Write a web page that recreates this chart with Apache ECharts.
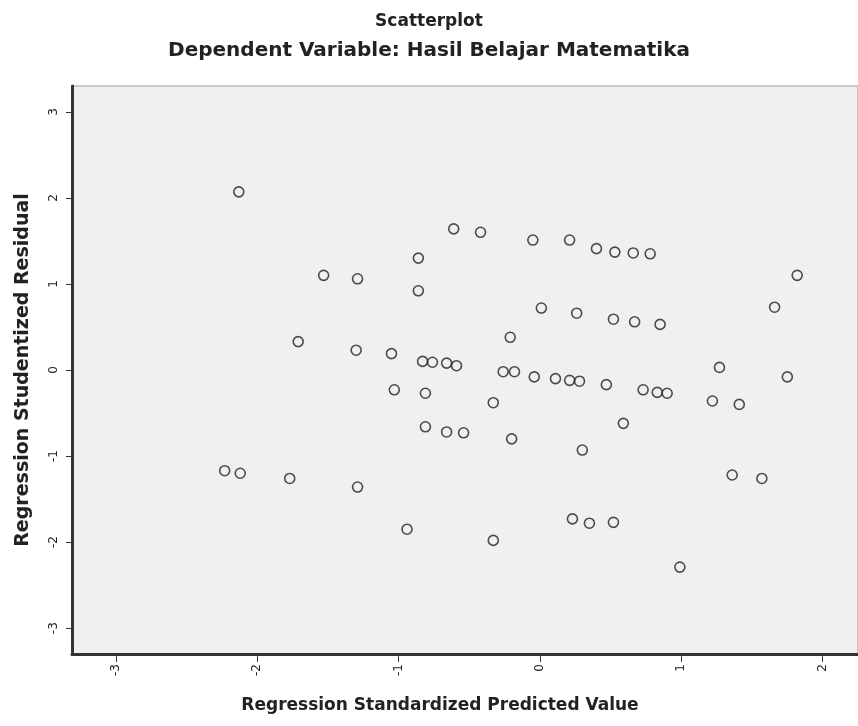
<!DOCTYPE html>
<html>
<head>
<meta charset="utf-8">
<script src="https://cdn.jsdelivr.net/npm/echarts@6/dist/echarts.min.js"></script>
<style>
html,body{margin:0;padding:0;background:#fff;}
#chart{width:858px;height:726px;}
</style>
</head>
<body>
<div id="chart"></div>
<script>
const titleText = "Scatterplot";
const subtitleText = "Dependent Variable: Hasil Belajar Matematika";
const xAxisName = "Regression Standardized Predicted Value";
const yAxisName = "Regression Studentized Residual";
const xTicks = [-3, -2, -1, 0, 1, 2];
const yTicks = [-3, -2, -1, 0, 1, 2, 3];
const predicted = [
  -2.13, -2.23, -2.12, -1.77, -1.71, -1.53, -1.29, -1.30, -1.29, -1.05,
  -1.03, -0.94, -0.86, -0.86, -0.83, -0.76, -0.66, -0.59, -0.81, -0.81,
  -0.66, -0.54, -0.61, -0.42, -0.33, -0.33, -0.21, -0.26, -0.18, -0.20,
  -0.05, -0.04, 0.01, 0.11, 0.21, 0.28, 0.21, 0.26, 0.23, 0.35,
  0.52, 0.30, 0.40, 0.53, 0.66, 0.78, 0.47, 0.52, 0.67, 0.85,
  0.59, 0.73, 0.83, 0.90, 0.99, 1.27, 1.22, 1.41, 1.36, 1.57,
  1.66, 1.75, 1.82
];
const residual = [
  2.07, -1.17, -1.20, -1.26, 0.33, 1.10, 1.06, 0.23, -1.36, 0.19,
  -0.23, -1.85, 1.30, 0.92, 0.10, 0.09, 0.08, 0.05, -0.27, -0.66,
  -0.72, -0.73, 1.64, 1.60, -0.38, -1.98, 0.38, -0.02, -0.02, -0.80,
  1.51, -0.08, 0.72, -0.10, -0.12, -0.13, 1.51, 0.66, -1.73, -1.78,
  -1.77, -0.93, 1.41, 1.37, 1.36, 1.35, -0.17, 0.59, 0.56, 0.53,
  -0.62, -0.23, -0.26, -0.27, -2.29, 0.03, -0.36, -0.40, -1.22, -1.26,
  0.73, -0.08, 1.10
];
const points = predicted.map((x, i) => [x, residual[i]]);

const chart = echarts.init(document.getElementById('chart'));
const font = 'DejaVu Sans, Verdana, sans-serif';
chart.setOption({
  backgroundColor: '#ffffff',
  animation: false,
  title: [
    { text: titleText, left: 'center', top: 8,
      textStyle: { fontFamily: font, fontSize: 17, fontWeight: 'bold', color: '#222' } },
    { text: subtitleText, left: 'center', top: 36,
      textStyle: { fontFamily: font, fontSize: 20, fontWeight: 'bold', color: '#222' } }
  ],
  grid: {
    left: 72, right: 0, top: 86, bottom: 72,
    show: true, backgroundColor: '#f0f0f0', borderColor: '#9a9a9a', borderWidth: 1
  },
  xAxis: {
    type: 'value', min: -3.31, max: 2.25,
    name: xAxisName, nameLocation: 'middle', nameGap: 43,
    nameTextStyle: { fontFamily: font, fontSize: 17, fontWeight: 'bold', color: '#222', padding: [0, 50, 0, 0] },
    axisLine: { show: true, onZero: false, lineStyle: { color: '#333', width: 3 } },
    axisTick: { show: true, inside: false, length: 8, customValues: xTicks, lineStyle: { color: '#333', width: 1 } },
    axisLabel: { customValues: xTicks, rotate: 90, margin: 10, fontFamily: font, fontSize: 12, color: '#222' },
    splitLine: { show: false }
  },
  yAxis: {
    type: 'value', min: -3.3, max: 3.3,
    name: yAxisName, nameLocation: 'middle', nameGap: 39, nameRotate: 90,
    nameTextStyle: { fontFamily: font, fontSize: 19, fontWeight: 'bold', color: '#222' },
    axisLine: { show: true, onZero: false, lineStyle: { color: '#333', width: 3 } },
    axisTick: { show: true, inside: false, length: 6, customValues: yTicks, lineStyle: { color: '#333', width: 1 } },
    axisLabel: { customValues: yTicks, rotate: 90, margin: 12, fontFamily: font, fontSize: 12, color: '#222' },
    splitLine: { show: false }
  },
  series: [{
    type: 'scatter',
    data: points,
    symbol: 'circle',
    symbolSize: 10,
    itemStyle: { color: 'rgba(0,0,0,0)', borderColor: '#222', borderWidth: 1.6 }
  }]
});
</script>
</body>
</html>
